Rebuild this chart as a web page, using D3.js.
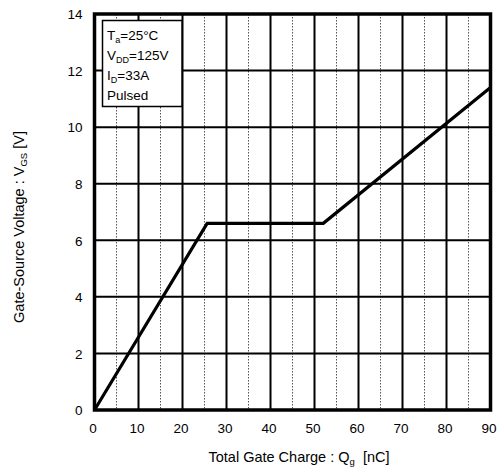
<!DOCTYPE html>
<html>
<head>
<meta charset="utf-8">
<script src="https://cdn.jsdelivr.net/npm/d3@7"></script>
<style>
  html, body { margin: 0; padding: 0; background: #fff; }
  svg text { font-family: "Liberation Sans", Arial, sans-serif; fill: #000; }
</style>
</head>
<body>
<svg id="chart" width="497" height="470"></svg>
<script>
// Gate charge curve: V_GS versus total gate charge Q_g
const chargeNC = [0, 25.6, 52.0, 90];
const gateVolts = [0, 6.6, 6.6, 11.4];

const xTicks = [0, 10, 20, 30, 40, 50, 60, 70, 80, 90];
const xMinor = [5, 15, 25, 35, 45, 55, 65, 75, 85];
const yTicks = [0, 2, 4, 6, 8, 10, 12, 14];

const conditions = [
  { main: "T", sub: "a", rest: "=25°C" },
  { main: "V", sub: "DD", rest: "=125V" },
  { main: "I", sub: "D", rest: "=33A" },
  { main: "Pulsed", sub: "", rest: "" }
];

const svg = d3.select("#chart");
const plotL = 94.5, plotR = 490.5, plotT = 14, plotB = 410;

const x = d3.scaleLinear().domain([0, 90]).range([plotL, plotR]);
const y = d3.scaleLinear().domain([0, 14]).range([plotB, plotT]);

// minor vertical grid (dotted)
svg.append("g").selectAll("line").data(xMinor).join("line")
  .attr("x1", d => x(d)).attr("x2", d => x(d))
  .attr("y1", plotT).attr("y2", plotB)
  .attr("stroke", "#555").attr("stroke-width", 1)
  .attr("stroke-dasharray", "1.5,1.5");

// major grid
svg.append("g").selectAll("line").data(xTicks.slice(1, -1)).join("line")
  .attr("x1", d => x(d)).attr("x2", d => x(d))
  .attr("y1", plotT).attr("y2", plotB)
  .attr("stroke", "#000").attr("stroke-width", 2);
svg.append("g").selectAll("line").data(yTicks.slice(1, -1)).join("line")
  .attr("y1", d => y(d)).attr("y2", d => y(d))
  .attr("x1", plotL).attr("x2", plotR)
  .attr("stroke", "#000").attr("stroke-width", 2);

// data curve
const line = d3.line().x((d, i) => x(chargeNC[i])).y(d => y(d));
svg.append("path")
  .attr("d", line(gateVolts))
  .attr("fill", "none").attr("stroke", "#000")
  .attr("stroke-width", 3.2).attr("stroke-linejoin", "miter");

// frame
svg.append("rect")
  .attr("x", plotL).attr("y", plotT)
  .attr("width", plotR - plotL).attr("height", plotB - plotT)
  .attr("fill", "none").attr("stroke", "#000").attr("stroke-width", 3.5);

// conditions box
const box = svg.append("g");
box.append("rect")
  .attr("x", 102.5).attr("y", 20.5).attr("width", 79.5).attr("height", 86)
  .attr("fill", "#fff").attr("stroke", "#000").attr("stroke-width", 1.5);
conditions.forEach((c, i) => {
  const t = box.append("text")
    .attr("x", 107).attr("y", 39.5 + i * 20.2)
    .attr("font-size", 13.5);
  t.append("tspan").text(c.main);
  if (c.sub) {
    t.append("tspan").attr("font-size", 9).attr("dy", 3).text(c.sub);
    t.append("tspan").attr("dy", -3).text(c.rest);
  }
});

// axes labels
const xAxis = d3.axisBottom(x).tickValues(xTicks).tickSize(0).tickPadding(0);
const gx = svg.append("g").attr("transform", `translate(-2,${plotB})`).call(xAxis);
gx.select(".domain").remove();
gx.selectAll("text").attr("font-size", 13.5).attr("dy", 0).attr("y", 23)
  .attr("font-family", "Liberation Sans, Arial, sans-serif").attr("fill", "#000");

const yAxis = d3.axisLeft(y).tickValues(yTicks).tickSize(0).tickPadding(0);
const gy = svg.append("g").attr("transform", `translate(${plotL},0)`).call(yAxis);
gy.select(".domain").remove();
gy.selectAll("text").attr("font-size", 13.5).attr("x", -12).attr("dy", "0.35em")
  .attr("font-family", "Liberation Sans, Arial, sans-serif").attr("fill", "#000");

// axis titles
const xt = svg.append("text")
  .attr("x", 299).attr("y", 462).attr("text-anchor", "middle")
  .attr("font-size", 14.5);
xt.append("tspan").text("Total Gate Charge : Q");
xt.append("tspan").attr("font-size", 9.5).attr("dy", 3).text("g");
xt.append("tspan").attr("dy", -3).text("\u00a0\u00a0[nC]");

const yt = svg.append("text")
  .attr("transform", "translate(24,227) rotate(-90)")
  .attr("text-anchor", "middle").attr("font-size", 14.5);
yt.append("tspan").text("Gate-Source Voltage : V");
yt.append("tspan").attr("font-size", 9.5).attr("dy", 3).text("GS");
yt.append("tspan").attr("dy", -3).text(" [V]");
</script>
</body>
</html>
